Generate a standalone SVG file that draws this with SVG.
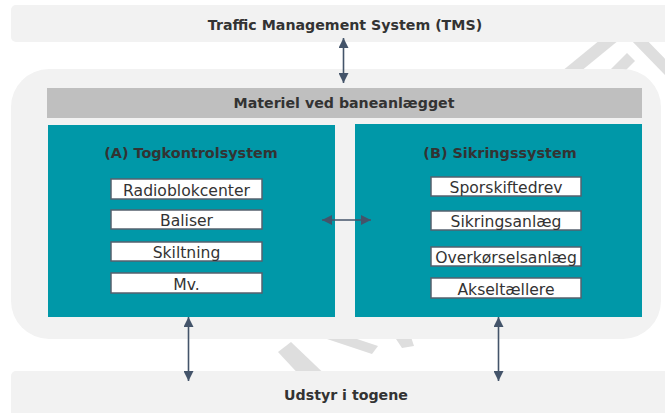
<svg xmlns="http://www.w3.org/2000/svg" width="665" height="413" viewBox="0 0 665 413">
  <defs>
    <marker id="arrow" viewBox="0 0 10 10" refX="10" refY="5" markerWidth="10" markerHeight="10" markerUnits="userSpaceOnUse" orient="auto-start-reverse">
      <path d="M0,0 L10,5 L0,10 Z" fill="#44546a"/>
    </marker>
    <style>
      .panel { fill: #f2f2f2; }
      .bar { fill: #bfbfbf; }
      .teal { fill: #0098a8; }
      .item { fill: #ffffff; stroke: #56606e; stroke-width: 1.5; }
      .bold { font-family: "DejaVu Sans", Verdana, sans-serif; font-weight: bold; font-size: 14.2px; fill: #333333; text-anchor: middle; }
      .title { font-family: "DejaVu Sans", Verdana, sans-serif; font-weight: bold; font-size: 14.4px; fill: #333333; text-anchor: middle; }
      .label { font-family: "DejaVu Sans", Verdana, sans-serif; font-size: 15.6px; fill: #333333; text-anchor: middle; }
      .link { stroke: #44546a; stroke-width: 1.6; fill: none; marker-start: url(#arrow); marker-end: url(#arrow); }
      .mark { fill: #dedede; }
    </style>
  </defs>

  <rect width="665" height="413" fill="#ffffff"/>

  <!-- background watermark strokes -->
  <g id="watermark">
    <polygon class="mark" points="556,76 611,31 619,40 564,85"/>
    <polygon class="mark" points="602,78 627,53 635,61 610,86"/>
    <polygon class="mark" points="629,38 637,30 676,70 668,78"/>
    <polygon class="mark" points="278,352 291,342 336,385 318,395"/>
    <polygon class="mark" points="318,336 330,330 378,346 372,354"/>
    <polygon class="mark" points="394,336 410,334 414,346 402,348"/>
  </g>

  <g id="tms">
    <rect class="panel" x="11" y="5" width="670" height="37" rx="5"/>
    <text class="bold" x="345" y="30">Traffic Management System (TMS)</text>
  </g>

  <g id="container">
    <rect class="panel" x="11" y="69" width="650" height="270" rx="38"/>
  </g>

  <g id="materiel">
    <rect class="bar" x="47" y="88" width="595" height="30"/>
    <text class="bold" x="344" y="108">Materiel ved baneanlægget</text>
  </g>

  <g id="togkontrol">
    <rect class="teal" x="48" y="125" width="287" height="192"/>
    <text class="title" x="191" y="158">(A) Togkontrolsystem</text>
    <g id="radioblokcenter">
      <rect class="item" x="111" y="179" width="151" height="20"/>
      <text class="label" x="186.5" y="195.5">Radioblokcenter</text>
    </g>
    <g id="baliser">
      <rect class="item" x="111" y="210" width="151" height="19"/>
      <text class="label" x="186.5" y="226">Baliser</text>
    </g>
    <g id="skiltning">
      <rect class="item" x="111" y="242" width="151" height="19"/>
      <text class="label" x="186.5" y="258">Skiltning</text>
    </g>
    <g id="mv">
      <rect class="item" x="111" y="273" width="151" height="20"/>
      <text class="label" x="186.5" y="289.5">Mv.</text>
    </g>
  </g>

  <g id="sikring">
    <rect class="teal" x="355" y="124" width="287" height="193"/>
    <text class="title" x="500" y="158">(B) Sikringssystem</text>
    <g id="sporskiftedrev">
      <rect class="item" x="431" y="177" width="150" height="19"/>
      <text class="label" x="506" y="193">Sporskiftedrev</text>
    </g>
    <g id="sikringsanlaeg">
      <rect class="item" x="431" y="211" width="150" height="19"/>
      <text class="label" x="506" y="227">Sikringsanlæg</text>
    </g>
    <g id="overkoerselsanlaeg">
      <rect class="item" x="431" y="247" width="150" height="19"/>
      <text class="label" x="506" y="263">Overkørselsanlæg</text>
    </g>
    <g id="akseltaellere">
      <rect class="item" x="431" y="278" width="150" height="20"/>
      <text class="label" x="506" y="294.5">Akseltællere</text>
    </g>
  </g>

  <g id="udstyr">
    <rect class="panel" x="11" y="371" width="670" height="60" rx="5"/>
    <text class="bold" x="346" y="400">Udstyr i togene</text>
  </g>

  <g id="connectors">
    <line class="link" x1="343.5" y1="38" x2="343.5" y2="83"/>
    <line class="link" x1="322" y1="220" x2="371" y2="220"/>
    <line class="link" x1="188.5" y1="317" x2="188.5" y2="381"/>
    <line class="link" x1="498.5" y1="317" x2="498.5" y2="381"/>
  </g>
</svg>
